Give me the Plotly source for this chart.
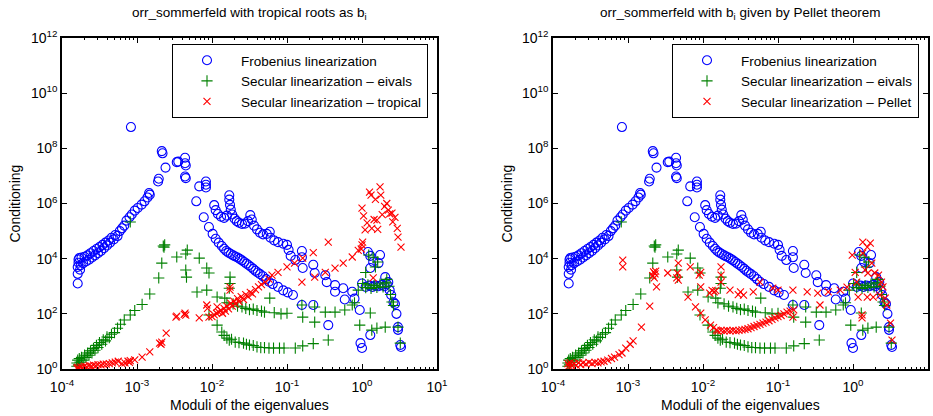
import plotly.graph_objects as go

# ---------------- data ----------------
# Frobenius linearization (identical in both panels)
frob_x = [1.62e-4, 1.62e-4, 1.62e-4, 1.66e-4, 1.66e-4, 1.70e-4, 1.74e-4, 1.78e-4, 1.82e-4, 1.91e-4,
          2.0e-4, 2.09e-4, 2.19e-4, 2.29e-4, 2.40e-4, 2.51e-4, 2.63e-4, 2.75e-4, 2.88e-4, 3.02e-4,
          3.16e-4, 3.31e-4, 3.47e-4, 3.63e-4, 3.80e-4, 3.98e-4, 4.17e-4, 4.37e-4, 4.57e-4, 4.90e-4,
          5.13e-4, 5.50e-4, 5.89e-4, 6.31e-4, 6.76e-4, 7.24e-4, 7.94e-4, 8.51e-4, 9.33e-4, 1.02e-3,
          1.15e-3, 1.26e-3, 1.38e-3, 1.45e-3, 1.48e-3, 1.91e-3, 1.95e-3,
          8.3e-4, 2.14e-3, 2.19e-3, 2.40e-3, 3.39e-3, 3.55e-3, 4.37e-3, 4.37e-3, 4.47e-3, 4.37e-3,
          4.47e-3, 6.76e-3, 8.3e-3, 8.3e-3, 8.3e-3, 6.17e-3,
          7.76e-3, 9.1e-3, 1.02e-2, 1.12e-2, 1.23e-2, 1.35e-2, 1.45e-2, 1.55e-2, 1.66e-2, 1.78e-2,
          1.91e-2, 2.04e-2, 2.19e-2, 2.34e-2, 2.51e-2, 2.69e-2, 2.88e-2, 3.09e-2, 3.31e-2, 3.55e-2,
          3.80e-2, 4.07e-2, 4.37e-2, 4.79e-2, 5.25e-2, 5.75e-2, 6.46e-2, 7.59e-2, 8.9e-2, 1.02e-1,
          1.2e-1, 1.58e-1, 2.24e-1, 3.55e-1,
          1.07e-2, 1.12e-2, 1.20e-2, 1.32e-2, 1.45e-2, 1.58e-2, 1.70e-2, 1.70e-2, 1.74e-2, 1.78e-2,
          1.86e-2, 2.0e-2, 2.14e-2, 2.29e-2, 2.51e-2, 2.75e-2, 3.02e-2, 3.24e-2, 3.39e-2, 3.63e-2,
          3.98e-2, 4.37e-2, 4.79e-2, 5.37e-2, 5.89e-2, 6.03e-2, 6.76e-2, 7.59e-2, 8.9e-2, 1.0e-1,
          1.05e-1, 1.12e-1, 1.29e-1, 1.58e-1, 1.58e-1, 1.62e-1, 2.24e-1, 2.34e-1, 3.24e-1, 3.39e-1,
          4.37e-1, 4.37e-1, 5.62e-1, 5.89e-1, 7.41e-1, 7.94e-1, 9.33e-1,
          9.55e-1, 1.0, 1.29, 1.0, 1.12, 1.26, 1.38, 1.51, 1.66, 1.82, 2.0, 2.14,
          1.20, 1.29, 1.29, 1.41, 1.74, 1.66, 2.04, 2.24, 2.34, 2.45, 2.63, 2.75, 2.88, 3.02, 3.02,
          3.24, 3.31]
frob_y = [1.26e3, 2.82e3, 5.0e3, 7.1e3, 9.3e3, 1.05e4, 4.0e3, 5.75e3, 1.10e4, 6.9e3,
          1.17e4, 7.9e3, 1.32e4, 9.1e3, 1.58e4, 1.10e4, 1.90e4, 1.32e4, 2.24e4, 1.58e4,
          2.63e4, 1.90e4, 3.16e4, 2.40e4, 3.80e4, 3.02e4, 4.57e4, 3.80e4, 5.75e4, 5.0e4,
          7.24e4, 6.6e4, 1.0e5, 1.26e5, 1.58e5, 2.4e5, 3.16e5, 3.98e5, 5.5e5, 6.9e5,
          9.1e5, 1.2e6, 1.66e6, 2.4e6, 2.09e6, 6.3e6, 7.9e6,
          5.9e8, 7.9e7, 6.6e7, 2.0e7, 3.16e7, 3.3e7, 4.57e7, 2.88e7, 2.4e7, 9.5e6,
          8.3e6, 4.17e6, 6.3e6, 4.8e6, 3.8e6, 1.2e6,
          3.16e5, 1.41e5, 7.9e4, 5.25e4, 3.8e4, 2.88e4, 2.29e4, 1.9e4, 1.66e4, 1.48e4,
          1.32e4, 1.2e4, 1.1e4, 9.8e3, 8.7e3, 7.6e3, 6.6e3, 5.75e3, 5.0e3, 4.27e3,
          3.63e3, 3.16e3, 2.75e3, 2.29e3, 1.82e3, 1.45e3, 1.2e3, 9.5e2, 7.1e2, 6.0e2,
          4.8e2, 2.09e2, 2.09e2, 3.9e1,
          8.7e5, 5.75e5, 4.17e5, 3.31e5, 3.02e5, 3.63e5, 2.0e6, 1.38e6, 8.9e5, 6.0e5,
          3.98e5, 2.82e5, 2.29e5, 2.0e5, 1.82e5, 1.86e5, 2.29e5, 3.8e5, 2.63e5, 1.58e5,
          1.15e5, 8.7e4, 7.6e4, 7.9e4, 9.5e4, 5.75e4, 4.57e4, 3.98e4, 3.47e4, 3.16e4,
          2.09e4, 1.26e4, 8.9e3, 1.9e4, 1.12e4, 4.57e3, 6.0e3, 3.02e3, 2.51e3, 1.41e3,
          1.1e3, 6.3e2, 8.5e2, 3.3e2, 6.3e2, 3.55e2, 1.38e2,
          8.7, 5.75, 1.7e1, 1.26e3, 9.5e2, 1.05e3, 9.5e2, 1.05e3, 1.0e3, 1.1e3, 1.0e3, 1.2e3,
          1.74e4, 1.26e4, 4.57e3, 7.6e3, 1.35e4, 6.9e3, 2.14e3, 1.41e3, 7.2e2, 4.8e2, 2.63e2,
          2.29e2, 1.0e2, 3.3e1, 2.63e1, 7.4, 6.3]

# Secular linearization - eivals (identical in both panels)
eiv_x = [1.58e-4, 1.58e-4, 1.62e-4, 1.66e-4, 1.70e-4, 1.74e-4, 1.82e-4, 1.91e-4, 2.0e-4, 2.09e-4,
         2.19e-4, 2.29e-4, 2.40e-4, 2.51e-4, 2.63e-4, 2.75e-4, 2.88e-4, 3.02e-4, 3.16e-4, 3.39e-4,
         3.55e-4, 3.80e-4, 3.98e-4, 4.27e-4, 4.57e-4, 5.01e-4, 5.50e-4, 6.03e-4, 6.76e-4, 8.13e-4,
         9.33e-4, 1.17e-3, 1.48e-3, 1.95e-3, 2.14e-3, 2.29e-3, 2.34e-3, 2.24e-3, 8.13e-4,
         3.39e-3, 4.68e-3, 4.47e-3, 4.47e-3, 4.57e-3, 6.76e-3, 8.51e-3, 9.12e-3, 6.31e-3, 8.51e-3,
         1.17e-2, 1.48e-2, 1.74e-2, 1.74e-2, 1.70e-2, 1.58e-2, 1.91e-2, 2.19e-2, 2.51e-2, 2.82e-2,
         3.16e-2, 3.55e-2, 3.98e-2, 4.57e-2, 5.01e-2, 5.89e-2, 6.76e-2, 8.32e-2, 1.0e-1, 1.58e-1,
         1.62e-1, 2.34e-1, 2.34e-1, 3.24e-1, 4.37e-1, 5.89e-1, 7.41e-1, 7.94e-1, 9.33e-1, 1.29,
         1.35, 1.58, 2.04, 2.51, 2.63, 3.02, 3.24,
         9.12e-3, 1.17e-2, 1.35e-2, 1.45e-2, 1.58e-2, 1.70e-2, 1.82e-2, 2.04e-2, 2.29e-2, 2.63e-2,
         2.88e-2, 3.16e-2, 3.55e-2, 3.98e-2, 4.47e-2, 5.01e-2, 5.75e-2, 6.61e-2, 7.94e-2, 9.12e-2,
         1.29e-1, 1.62e-1, 2.24e-1, 3.55e-1,
         8.91e-1, 1.02, 1.12, 1.20, 1.32, 1.45, 1.58, 1.74, 1.91, 2.09, 2.29, 1.23, 1.62, 1.41,
         1.51, 1.12, 2.14, 2.40]
eiv_y = [1.26, 1.66, 2.09, 1.41, 2.4, 1.78, 2.63, 2.09, 3.16, 2.63,
         3.8, 3.16, 4.57, 3.8, 5.6, 4.8, 7.2, 6.0, 9.1, 7.9,
         1.15e1, 1.05e1, 1.45e1, 1.38e1, 1.82e1, 2.09e1, 3.02e1, 4.17e1, 6.0e1, 9.1e1,
         1.32e2, 2.19e2, 5.25e2, 2.0e3, 6.9e3, 2.63e4, 3.16e4, 2.88e4, 2.14e5,
         1.15e4, 2.04e4, 1.48e4, 3.89e3, 2.14e3, 1.05e4, 4.57e3, 3.02e3, 6.17e2, 7.24e2,
         4.07e2, 3.72e2, 2.14e3, 1.26e3, 8.5e2, 2.51e2, 2.29e2, 1.91e2, 1.78e2, 1.58e2,
         1.41e2, 1.48e2, 1.32e2, 1.26e2, 1.15e2, 3.72e2, 1.1e2, 1.0e2, 1.05e2, 2.09e2,
         7.6e1, 1.78e2, 5.0e1, 1.15e2, 1.15e2, 1.38e2, 2.09e2, 2.51e2, 3.9e1, 1.07e2,
         2.57e1, 3.02e1, 3.3e1, 2.69e2, 2.0e2, 3.3e1, 8.7,
         9.1e1, 3.9e1, 2.19e1, 1.66e1, 1.32e1, 1.12e1, 1.2e1, 9.5, 9.1, 8.7,
         7.9, 7.4, 7.1, 6.3, 6.0, 6.0, 5.75, 5.75, 5.75, 5.75,
         5.75, 6.9, 8.3, 1.12e1,
         7.24e2, 1.26e3, 8.9e2, 1.12e3, 8.3e2, 1.05e3, 9.1e2, 1.2e3, 9.5e2, 1.32e3, 1.0e3, 1.35e4,
         7.6e3, 1.12e4, 5.0e3, 3.16e3, 1.78e3, 5.0e2]

# Secular linearization - tropical (left panel)
trop_x = [1.58e-4, 1.62e-4, 1.70e-4, 1.78e-4, 1.86e-4, 2.0e-4, 2.14e-4, 2.29e-4, 2.45e-4, 2.63e-4,
          2.82e-4, 3.02e-4, 3.31e-4, 3.55e-4, 3.89e-4, 4.27e-4, 4.68e-4, 5.13e-4, 5.62e-4, 6.31e-4,
          6.92e-4, 7.59e-4, 7.94e-4, 8.13e-4, 9.33e-4, 1.17e-3, 1.48e-3, 2.0e-3, 2.09e-3, 2.14e-3,
          2.45e-3,
          3.39e-3, 3.31e-3, 4.37e-3, 4.47e-3, 4.27e-3, 6.76e-3, 8.51e-3, 8.71e-3, 9.12e-3, 1.17e-2,
          1.0e-2, 1.07e-2, 1.15e-2, 1.23e-2, 1.32e-2, 1.38e-2, 1.45e-2, 1.51e-2, 1.58e-2, 1.66e-2,
          1.74e-2, 1.74e-2, 1.78e-2, 1.86e-2, 1.95e-2, 2.04e-2, 2.19e-2, 2.29e-2, 2.45e-2, 2.63e-2,
          2.82e-2, 3.02e-2, 3.24e-2, 3.47e-2, 3.80e-2, 4.17e-2, 4.57e-2, 5.13e-2, 5.75e-2, 6.31e-2,
          7.59e-2, 1.0e-1, 1.26e-1, 1.62e-1, 1.58e-1, 2.34e-1, 3.24e-1, 4.37e-1, 5.62e-1, 7.41e-1,
          8.91e-1, 1.41, 2.24e-1, 3.55e-1,
          9.77e-1, 1.0, 1.02, 1.10, 1.0, 1.05, 1.17, 1.26, 1.32, 1.35, 1.45, 1.51, 1.58, 1.62, 1.74,
          1.78, 1.86, 2.0, 2.14, 2.24, 2.34, 2.51, 2.57, 2.75, 2.95, 3.02, 3.31]
trop_y = [1.05, 1.15, 1.07, 1.2, 1.12, 1.26, 1.2, 1.32, 1.26, 1.38,
          1.32, 1.45, 1.41, 1.51, 1.51, 1.58, 1.66, 1.78, 1.91, 1.58,
          1.66, 1.91, 1.74, 2.0, 2.14, 2.69, 4.17, 8.7, 7.9, 9.5,
          2.0e1,
          8.3e1, 7.6e1, 1.07e2, 8.9e1, 9.5e1, 7.1e1, 2.09e2, 1.58e2, 7.6e1, 1.78e2,
          7.9e1, 9.1e1, 1.05e2, 1.15e2, 1.32e2, 1.05e2, 1.58e2, 1.26e2, 1.91e2, 1.51e2,
          7.2e2, 9.3e2, 2.4e2, 1.91e2, 2.88e2, 2.29e2, 3.55e2, 2.75e2, 4.17e2, 3.31e2,
          5.0e2, 4.17e2, 6.0e2, 5.25e2, 7.6e2, 9.5e2, 1.15e3, 1.41e3, 1.82e3, 2.51e3,
          3.16e3, 5.0e3, 6.9e3, 1.05e4, 1.41e3, 2.14e3, 3.16e3, 4.57e3, 6.9e3, 1.15e4,
          2.0e4, 2.0e3, 1.66e4, 3.98e4,
          2.24e4, 3.16e4, 3.98e4, 1.1e5, 6.76e5, 3.55e5, 2.0e5, 2.57e6, 2.0e6, 1.26e5, 2.63e5,
          1.41e6, 2.51e5, 1.15e5, 4.0e6, 2.0e6, 3.98e5, 7.9e5, 1.0e6, 5.75e5, 4.17e5, 4.47e5,
          2.14e5, 3.16e5, 1.26e5, 6.0e4, 2.63e4]

# Secular linearization - Pellet (right panel)
pel_x = [1.58e-4, 1.62e-4, 1.70e-4, 1.78e-4, 1.91e-4, 2.04e-4, 2.19e-4, 2.34e-4, 2.51e-4, 2.75e-4,
         3.02e-4, 3.31e-4, 3.63e-4, 3.98e-4, 4.37e-4, 4.79e-4, 5.37e-4, 6.03e-4, 6.61e-4, 7.59e-4,
         8.32e-4, 9.33e-4, 1.07e-3, 1.17e-3, 1.51e-3, 1.95e-3, 2.40e-3,
         8.51e-4, 8.51e-4, 2.19e-3, 2.29e-3, 2.14e-3, 2.34e-3, 2.24e-3, 3.39e-3, 4.68e-3, 4.68e-3,
         4.57e-3, 4.47e-3, 6.76e-3, 6.31e-3, 7.94e-3, 9.33e-3, 9.33e-3, 8.91e-3, 9.33e-3, 1.07e-2,
         1.26e-2, 1.51e-2, 1.38e-2,
         1.58e-2, 1.74e-2, 1.91e-2, 2.09e-2, 2.29e-2, 2.51e-2, 2.75e-2, 3.02e-2, 3.31e-2, 3.63e-2,
         3.98e-2, 4.37e-2, 4.79e-2, 5.25e-2, 5.75e-2, 6.31e-2, 6.92e-2, 7.59e-2, 8.32e-2, 9.12e-2,
         1.0e-1, 1.10e-1, 1.20e-1, 1.32e-1, 1.45e-1, 1.62e-1,
         1.23e-2, 1.32e-2, 1.41e-2, 1.48e-2, 1.74e-2, 1.74e-2, 1.74e-2, 2.29e-2, 2.95e-2, 3.16e-2,
         3.47e-2, 4.68e-2, 5.75e-2, 8.51e-2, 1.0e-1, 1.58e-1, 1.58e-1, 2.45e-1, 3.39e-1, 3.63e-1,
         4.68e-1, 6.76e-1, 8.32e-1,
         9.77e-1, 1.07, 1.35, 1.70, 1.55, 1.45, 1.58, 1.35, 1.78, 1.95, 2.19, 2.40, 2.51, 2.69,
         2.82, 3.16, 3.31, 1.32, 1.32, 1.55, 1.86, 1.17, 2.29, 1.12]
pel_y = [1.58, 1.26, 1.66, 1.32, 1.58, 1.38, 1.66, 1.45, 1.66, 1.51,
         1.74, 1.58, 1.74, 1.66, 1.82, 1.91, 2.09, 2.4, 2.69, 3.31,
         3.8, 5.75, 7.9, 1.05e1, 3.3e1, 1.91e2, 9.5e2,
         8.9e3, 5.0e3, 3.31e3, 2.82e3, 2.4e3, 3.55e3, 2.0e3, 3.02e3, 6.9e3, 1.66e3,
         3.02e3, 2.0e3, 5.0e3, 4.07e2, 1.78e2, 1.07e2, 3.16e3, 2.51e3, 9.5e2, 6.0e1,
         3.9e1, 2.57e1, 3.16e1,
         2.4e1, 2.51e1, 2.4e1, 2.51e1, 2.4e1, 2.51e1, 2.4e1, 2.51e1, 2.63e1, 2.75e1,
         2.88e1, 3.16e1, 3.47e1, 3.8e1, 4.17e1, 4.57e1, 5.0e1, 5.62e1, 6.3e1, 7.1e1,
         7.9e1, 8.7e1, 1.0e2, 1.15e2, 1.26e2, 1.38e2,
         5.6e2, 7.1e2, 6.3e2, 6.9e2, 5.0e3, 2.51e3, 1.41e3, 7.2e2, 5.0e2, 6.3e2,
         4.79e2, 6.3e2, 1.41e3, 8.5e2, 7.2e2, 7.2e2, 7.6e1, 6.3e2, 5.6e2, 2.09e2,
         6.3e2, 7.2e2, 9.3e2,
         1.35e4, 3.16e3, 3.98e4, 3.63e4, 2.63e4, 3.89e3, 3.02e3, 1.58e4, 6.9e3, 3.02e3, 2.51e3,
         1.41e3, 9.5e2, 3.72e2, 2.09e2, 4.57e1, 1.12e1, 7.1e1, 9.1e1, 4.07e2, 4.07e2, 4.07e2,
         4.79e2, 1.41e3]

x_tick_values = [1e-4, 1e-3, 1e-2, 1e-1, 1, 10]
x_tick_labels = ["10<sup>-4</sup>", "10<sup>-3</sup>", "10<sup>-2</sup>", "10<sup>-1</sup>",
                 "10<sup>0</sup>", "10<sup>1</sup>"]
y_tick_values = [1, 1e2, 1e4, 1e6, 1e8, 1e10, 1e12]
y_tick_labels = ["10<sup>0</sup>", "10<sup>2</sup>", "10<sup>4</sup>", "10<sup>6</sup>",
                 "10<sup>8</sup>", "10<sup>10</sup>", "10<sup>12</sup>"]

# ---------------- figure ----------------
FONT = "Liberation Sans, Arial, Helvetica, sans-serif"
BLUE, GREEN, RED = "#0000ff", "#008000", "#ff0000"

fig = go.Figure()

def add_series(xs, ys, name, sym, color, size, xa, ya, legend):
    fig.add_trace(go.Scatter(
        x=xs, y=ys, mode="markers", name=name, xaxis=xa, yaxis=ya, legend=legend,
        marker=dict(symbol=sym, size=size, color=color, line=dict(color=color, width=1.1)),
    ))

for xa, ya, leg, red_x, red_y, red_name in [
    ("x", "y", "legend", trop_x, trop_y, "Secular linearization \u2013 tropical"),
    ("x2", "y2", "legend2", pel_x, pel_y, "Secular linearization \u2013 Pellet"),
]:
    add_series(frob_x, frob_y, "Frobenius linearization", "circle-open", BLUE, 9, xa, ya, leg)
    add_series(eiv_x, eiv_y, "Secular linearization \u2013 eivals", "cross-thin-open", GREEN, 8, xa, ya, leg)
    add_series(red_x, red_y, red_name, "x-thin-open", RED, 7, xa, ya, leg)

xcommon = dict(type="log", range=[-4, 1], tickvals=x_tick_values, ticktext=x_tick_labels,
               ticks="inside", ticklen=5, tickcolor="black", showline=True, linecolor="black",
               linewidth=1.5, mirror="allticks", showgrid=False, zeroline=False, automargin=False,
               ticklabelstandoff=4,
               tickfont=dict(family=FONT, size=14, color="black"),
               minor=dict(ticks="inside", ticklen=2.5, tickcolor="black", dtick="D1", showgrid=False))
ycommon = dict(type="log", range=[0, 12], tickvals=y_tick_values, ticktext=y_tick_labels,
               ticks="inside", ticklen=5, tickcolor="black", showline=True, linecolor="black",
               linewidth=1.5, mirror="allticks", showgrid=False, zeroline=False, automargin=False,
               tickfont=dict(family=FONT, size=14, color="black"))

W, H = 933, 416
L1, R1, L2, R2, T, B = 62, 437, 553, 928, 38, 369

legend_style = dict(y=1 - 44 / H, xanchor="left", yanchor="top", bgcolor="white",
                    bordercolor="black", borderwidth=1, font=dict(family=FONT, size=13.5),
                    tracegroupgap=0, itemsizing="trace", itemwidth=58)

fig.update_layout(
    width=W, height=H, margin=dict(l=0, r=0, t=0, b=0, pad=0, autoexpand=False),
    paper_bgcolor="white", plot_bgcolor="white",
    font=dict(family=FONT, size=13, color="black"),
    xaxis=dict(domain=[L1 / W, R1 / W], anchor="y", **xcommon),
    yaxis=dict(domain=[1 - B / H, 1 - T / H], anchor="x", **ycommon),
    xaxis2=dict(domain=[L2 / W, R2 / W], anchor="y2", **xcommon),
    yaxis2=dict(domain=[1 - B / H, 1 - T / H], anchor="x2", **ycommon),
    legend=dict(x=172 / W, **legend_style),
    legend2=dict(x=672 / W, **legend_style),
    showlegend=True,
)

def note(text, px, py, size, angle=0):
    return dict(text=text, x=px / W, y=1 - py / H, xref="paper", yref="paper",
                xanchor="center", yanchor="middle", showarrow=False, textangle=angle,
                font=dict(family=FONT, size=size, color="black"))

ann = [
    note("orr_sommerfeld with tropical roots as b<sub>i</sub>", (L1 + R1) / 2, 14, 13.5),
    note("orr_sommerfeld with b<sub>i</sub> given by Pellet theorem", (L2 + R2) / 2, 14, 13.5),
    note("Moduli of the eigenvalues", (L1 + R1) / 2, 405, 14),
    note("Moduli of the eigenvalues", (L2 + R2) / 2, 405, 14),
    note("Conditioning", 14, (T + B) / 2, 14, -90),
    note("Conditioning", 506, (T + B) / 2, 14, -90),
]
fig.update_layout(annotations=ann)

fig.write_html("out.html", config={"displayModeBar": False},
               post_script="document.body.style.margin='0px';document.body.style.overflow='hidden';")
